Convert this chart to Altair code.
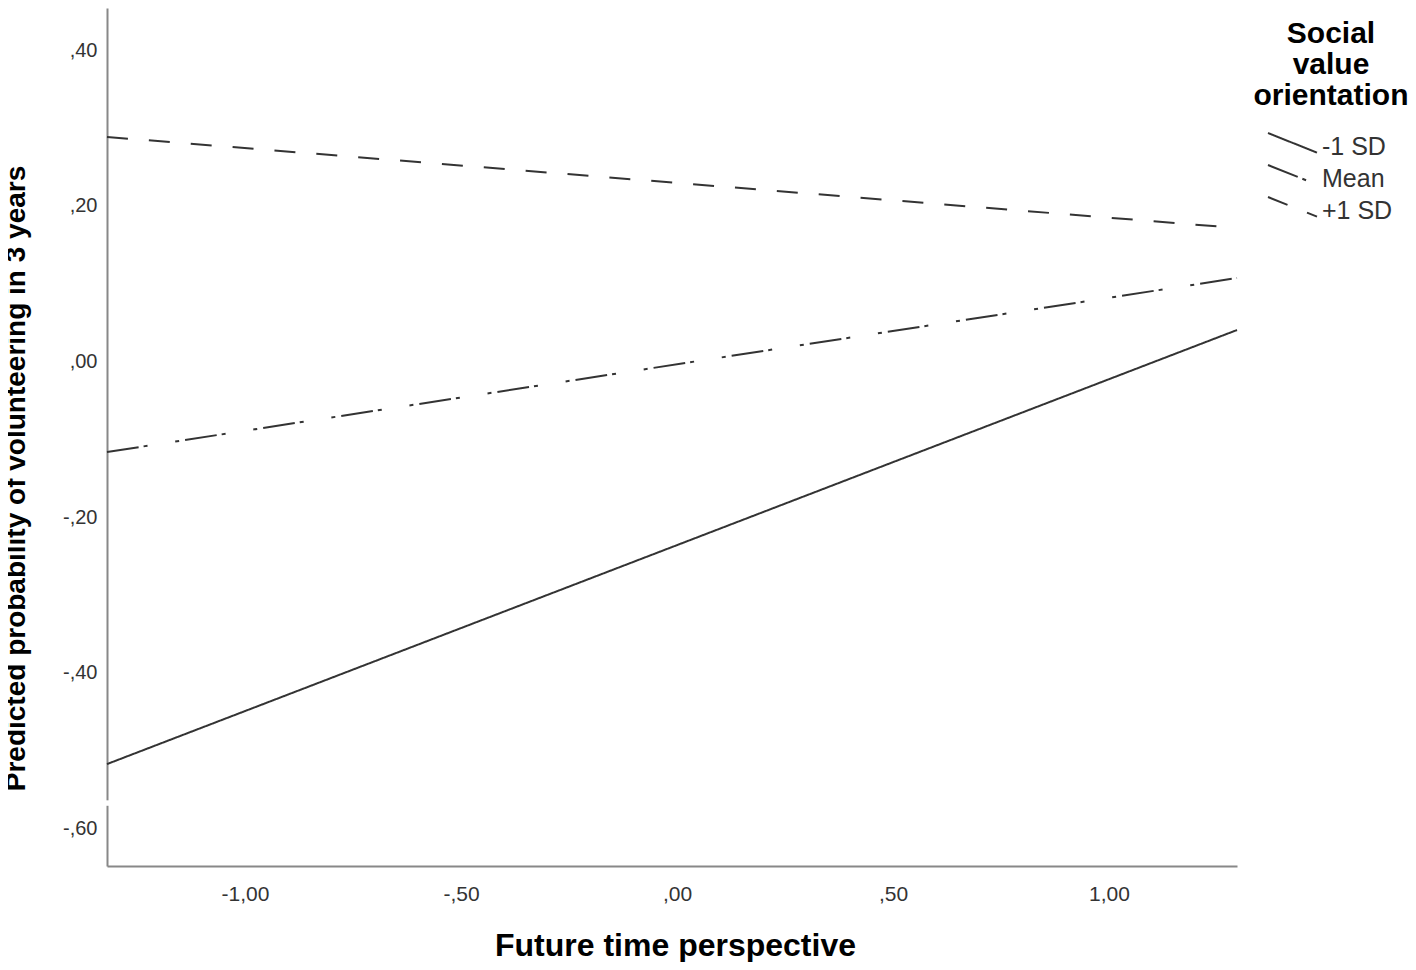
import altair as alt
import pandas as pd

# ---- data ----
sd_levels = ["-1 SD", "Mean", "+1 SD"]
ftp_range = [-1.3194, 1.2963]          # x at left / right edge of the plot
pred_minus1sd = [-0.5174, 0.0405]
pred_mean = [-0.1163, 0.1073]
pred_plus1sd = [0.2886, 0.1716]

x_ticks = [-1.0, -0.5, 0.0, 0.5, 1.0]
x_tick_labels = ["-1,00", "-,50", ",00", ",50", "1,00"]
y_ticks = [-0.6, -0.4, -0.2, 0.0, 0.2, 0.4]
y_tick_labels = ["-,60", "-,40", "-,20", ",00", ",20", ",40"]
y_domain = [-0.6484, 0.4544]
axis_break = [-0.564, -0.571]
legend_title = ["Social", "value", "orientation"]

rows = []
for lvl, vals in zip(sd_levels, [pred_minus1sd, pred_mean, pred_plus1sd]):
    for x, y in zip(ftp_range, vals):
        rows.append({"ftp": x, "pred": y, "svo": lvl})
df = pd.DataFrame(rows)

brk = pd.DataFrame({"ftp": [ftp_range[0]], "pred": [axis_break[0]], "pred2": [axis_break[1]]})


def label_expr(ticks, labels):
    expr = "''"
    for t, l in reversed(list(zip(ticks, labels))):
        expr = f"abs(datum.value - ({t})) < 1e-6 ? '{l}' : ({expr})"
    return expr


FONT = "Liberation Sans"

x_enc = alt.X(
    "ftp:Q",
    scale=alt.Scale(domain=ftp_range, nice=False, zero=False),
    axis=alt.Axis(
        values=x_ticks, labelExpr=label_expr(x_ticks, x_tick_labels),
        ticks=False, tickSize=0, grid=False,
        domainColor="#888888", domainWidth=2,
        labelFont=FONT, labelFontSize=21, labelColor="#333333",
        labelBaseline="alphabetic", labelPadding=34, labelAlign="center",
        labelFlush=False, labelOverlap=False,
        title="Future time perspective", titleFont=FONT, titleFontSize=32,
        titleFontWeight="bold", titleColor="#000000",
        titleBaseline="alphabetic", titleX=568, titleY=89,
    ),
)
y_enc = alt.Y(
    "pred:Q",
    scale=alt.Scale(domain=y_domain, nice=False, zero=False),
    axis=alt.Axis(
        values=y_ticks, labelExpr=label_expr(y_ticks, y_tick_labels),
        ticks=False, tickSize=0, grid=False, zindex=0,
        domainColor="#888888", domainWidth=2,
        labelFont=FONT, labelFontSize=20, labelColor="#333333",
        labelBaseline="middle", labelPadding=10, labelAlign="right",
        labelFlush=False, labelOverlap=False,
        title="Predicted probability of volunteering in 3 years",
        titleFont=FONT, titleFontSize=28, titleFontWeight="bold",
        titleColor="#000000", titleAngle=270, titleBaseline="alphabetic",
        titleAlign="center", titleX=-83, titleY=470,
    ),
)

lines = alt.Chart(df).mark_line(strokeWidth=2, color="#333333").encode(
    x=x_enc,
    y=y_enc,
    strokeDash=alt.StrokeDash(
        "svo:N",
        scale=alt.Scale(domain=sd_levels,
                        range=[[1, 0], [32, 5, 4, 28, 4, 6], [21, 21]]),
        legend=alt.Legend(
            title=None,
            orient="none", legendX=1161, legendY=125,
            symbolType="M-2,-1.1L2,0.5", symbolSize=600,
            symbolStrokeWidth=2, symbolStrokeColor="#333333",
            symbolOffset=11, labelOffset=16,
            labelFont=FONT, labelFontSize=25, labelColor="#333333",
            rowPadding=1, padding=0,
        ),
    ),
)

rule = alt.Chart(brk).mark_rule(color="white", strokeWidth=6, clip=False).encode(
    x=alt.X("ftp:Q"), y=alt.Y("pred:Q"), y2="pred2:Q"
)

chart = (
    alt.layer(lines, rule)
    .properties(
        title=alt.TitleParams(
            legend_title, anchor="end", align="center", baseline="top",
            frame="group", dx=94, dy=103, offset=0,
            font=FONT, fontSize=30, fontWeight="bold", color="#000000",
            lineHeight=31,
        ),
        width=1130, height=858,
        autosize=alt.AutoSizeParams(type="none"),
        padding={"left": 99, "top": 0, "right": 171, "bottom": 96},
        background="white",
    )
    .configure_view(stroke=None)
)

chart.save("out.html", embed_options={"renderer": "svg", "actions": False})
